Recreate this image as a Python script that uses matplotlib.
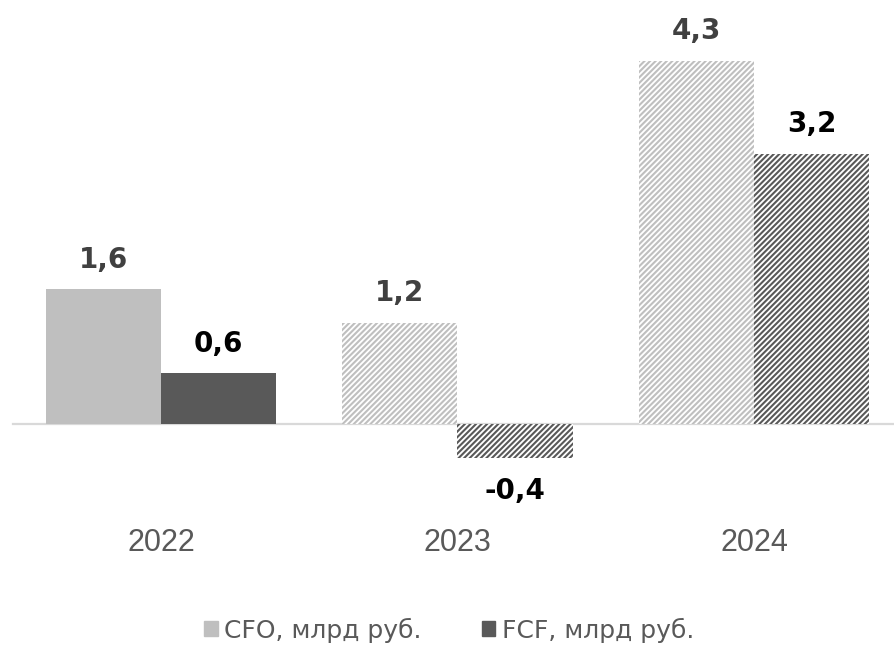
import numpy as np
import matplotlib.pyplot as plt
from matplotlib.patches import Patch

# Data
years = ['2022', '2023', '2024']
cfo = [1.6, 1.2, 4.3]
fcf = [0.6, -0.4, 3.2]
hatched = [False, True, True]   # 2023-2024 drawn with stripes

cfo_color = '#bfbfbf'
fcf_color = '#595959'

plt.rcParams['hatch.linewidth'] = 1.5

fig = plt.figure(figsize=(8.94, 6.71), dpi=100)
ax = fig.add_axes([0, 0, 1, 1])
ax.set_xlim(-161 / 296.5, (894 - 161) / 296.5)
ax.set_ylim(-(671 - 424) / 84.5, 424 / 84.5)
ax.axis('off')

x = np.arange(len(years))
w = 0.388

for i in range(len(years)):
    for val, off, col, lab_col in [(cfo[i], -w / 2, cfo_color, '#404040'),
                                   (fcf[i], w / 2, fcf_color, 'black')]:
        if hatched[i]:
            ax.bar(x[i] + off, val, w, color='white', edgecolor=col,
                   hatch='//////', linewidth=0, zorder=2)
        else:
            ax.bar(x[i] + off, val, w, color=col, linewidth=0, zorder=2)
        dy = 11 if val >= 0 else -14
        ax.annotate(f'{val:.1f}'.replace('.', ','), (x[i] + off, val),
                    xytext=(0, dy), textcoords='offset points',
                    ha='center', va='bottom' if val >= 0 else 'top',
                    fontsize=20, fontweight='bold', color=lab_col,
                    family='DejaVu Sans')

ax.axhline(0, xmin=13 / 894, xmax=1, color='#d9d9d9', linewidth=1.6, zorder=1)

for i, y in enumerate(years):
    ax.text(x[i], -119 / 84.5, y, ha='center', va='center', fontsize=22,
            color='#595959', family='Liberation Sans')

handles = [Patch(color=cfo_color, label='CFO, млрд руб.'),
           Patch(color=fcf_color, label='FCF, млрд руб.')]
fig.legend(handles=handles, loc='center', bbox_to_anchor=(449 / 894, 1 - 630 / 671),
           ncol=2, frameon=False, handlelength=0.55, handleheight=0.55,
           handletextpad=0.25, columnspacing=2.4,
           prop={'family': 'DejaVu Sans', 'size': 18}, labelcolor='#595959')

fig.savefig('out.png', dpi=100)
